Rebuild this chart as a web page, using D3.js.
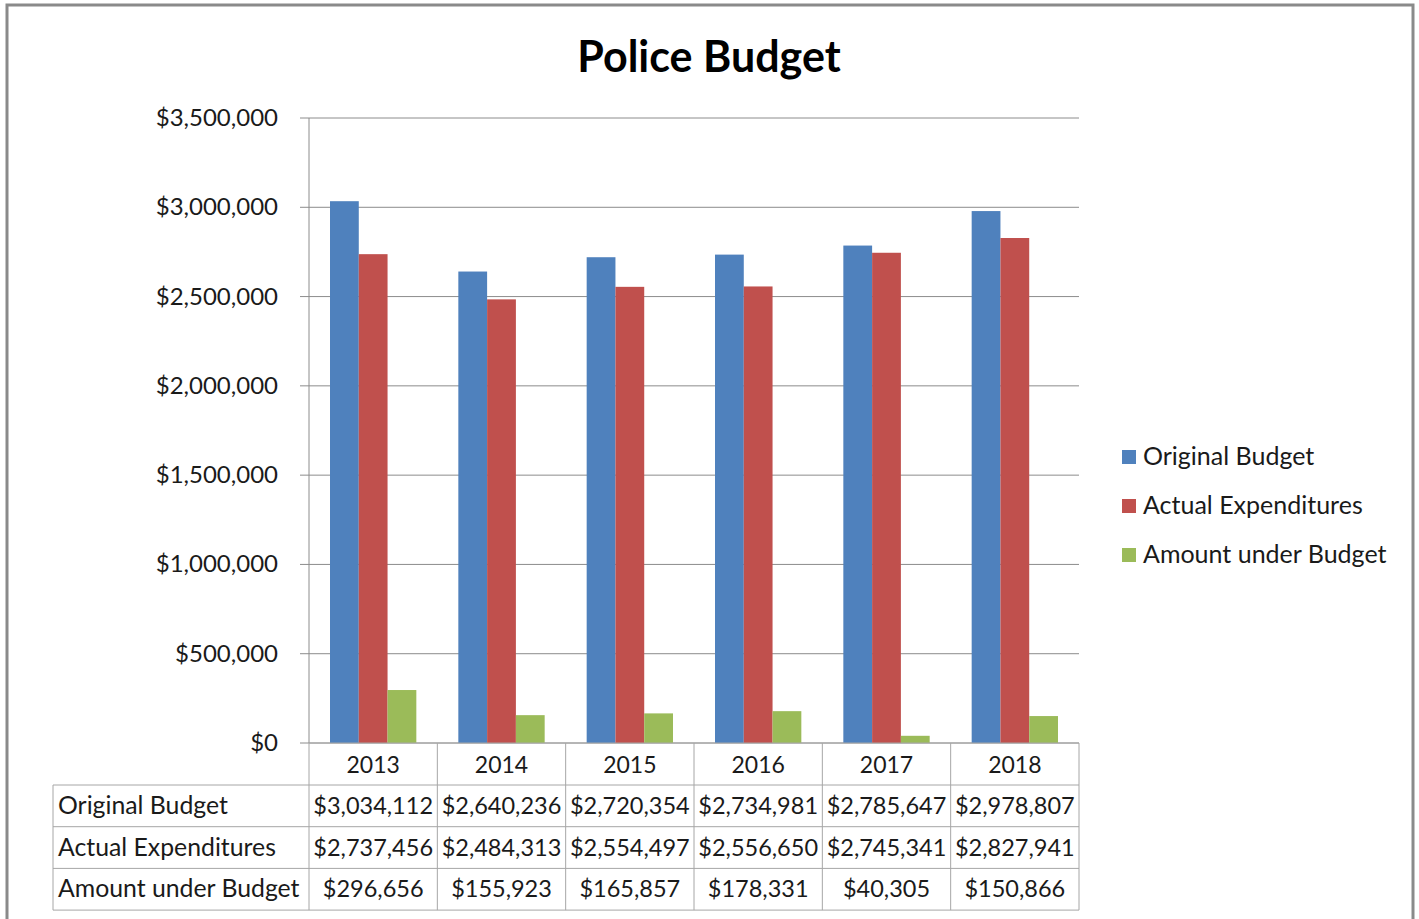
<html>
<head>
<title>Police Budget</title>
<style>
  body { margin: 0; background: #fff; }
  text { font-family: Lato, "Open Sans", sans-serif; fill: #000; }
</style>
</head>
<body>
<script src="https://d3js.org/d3.v7.min.js"></script>
<script>
var years = ["2013", "2014", "2015", "2016", "2017", "2018"];
var seriesNames = ["Original Budget", "Actual Expenditures", "Amount under Budget"];
var originalBudget = [3034112, 2640236, 2720354, 2734981, 2785647, 2978807];
var actualExpenditures = [2737456, 2484313, 2554497, 2556650, 2745341, 2827941];
var amountUnder = [296656, 155923, 165857, 178331, 40305, 150866];
var yTicks = [0, 500000, 1000000, 1500000, 2000000, 2500000, 3000000, 3500000];
var colors = ["#4F81BD", "#C0504D", "#9BBB59"];

var allSeries = [originalBudget, actualExpenditures, amountUnder];

var svg = d3.select("body").append("svg")
    .attr("width", 1419).attr("height", 919);

// outer chart border
svg.append("rect")
    .attr("x", 7).attr("y", 5)
    .attr("width", 1406).attr("height", 960)
    .attr("fill", "none").attr("stroke", "#8a8a8a").attr("stroke-width", 3);

var plotLeft = 309, plotRight = 1079, plotTop = 118, plotBottom = 743;

var x = d3.scaleBand().domain(years).range([plotLeft, plotRight]);
var inner = d3.scaleBand().domain(seriesNames).range([21, x.bandwidth() - 21]);
var y = d3.scaleLinear().domain([0, 3500000]).range([plotBottom, plotTop]);
var fmt = function(v){ return "$" + d3.format(",")(v); };

// title
svg.append("text")
    .attr("x", 709).attr("y", 72)
    .attr("text-anchor", "middle")
    .style("font-size", "43px").style("font-weight", "bold")
    .text("Police Budget");

// gridlines + ticks
svg.selectAll(".grid").data(yTicks).enter().append("line")
    .attr("x1", plotLeft - 9).attr("x2", plotRight)
    .attr("y1", function(d){ return y(d); })
    .attr("y2", function(d){ return y(d); })
    .attr("stroke", "#8c8c8c").attr("stroke-width", 1);

svg.selectAll(".ylab").data(yTicks).enter().append("text")
    .attr("x", 278)
    .attr("y", function(d){ return y(d) + 8; })
    .attr("text-anchor", "end")
    .style("font-size", "24px")
    .style("fill", "#1a1a1a")
    .text(fmt);

// y axis line
svg.append("line")
    .attr("x1", plotLeft).attr("x2", plotLeft)
    .attr("y1", plotTop).attr("y2", plotBottom)
    .attr("stroke", "#8c8c8c");

// bars
allSeries.forEach(function(vals, s){
    svg.selectAll(".bar" + s).data(vals).enter().append("rect")
        .attr("x", function(d, i){ return x(years[i]) + inner(seriesNames[s]); })
        .attr("y", function(d){ return y(d); })
        .attr("width", inner.bandwidth())
        .attr("height", function(d){ return plotBottom - y(d); })
        .attr("fill", colors[s]);
});

// data table
var rowH = 41.7;
var tableLeft = 53;
var tableBottom = plotBottom + 42 + rowH * 3;
var lineColor = "#a6a6a6";

svg.append("line")
    .attr("x1", plotLeft).attr("x2", plotRight).attr("y1", plotBottom).attr("y2", plotBottom)
    .attr("stroke", lineColor);
d3.range(4).forEach(function(r){
    var yy = plotBottom + 42 + r * rowH;
    svg.append("line")
        .attr("x1", tableLeft).attr("x2", plotRight)
        .attr("y1", yy).attr("y2", yy)
        .attr("stroke", lineColor);
});
var colEdges = years.map(function(d){ return x(d); }).concat([plotRight]);
colEdges.forEach(function(cx){
    svg.append("line")
        .attr("x1", cx).attr("x2", cx)
        .attr("y1", plotBottom).attr("y2", tableBottom)
        .attr("stroke", lineColor);
});
svg.append("line")
    .attr("x1", tableLeft).attr("x2", tableLeft)
    .attr("y1", plotBottom + 42).attr("y2", tableBottom)
    .attr("stroke", lineColor);

svg.selectAll(".year").data(years).enter().append("text")
    .attr("x", function(d){ return x(d) + x.bandwidth() / 2; })
    .attr("y", plotBottom + 30)
    .attr("text-anchor", "middle")
    .style("font-size", "23px")
    .style("fill", "#1a1a1a")
    .text(function(d){ return d; });

allSeries.forEach(function(vals, s){
    var cy = plotBottom + 42 + s * rowH + 29;
    svg.append("text")
        .attr("x", tableLeft + 5).attr("y", cy)
        .style("font-size", "24.8px")
        .style("fill", "#1a1a1a")
        .text(seriesNames[s]);
    svg.selectAll(".cell" + s).data(vals).enter().append("text")
        .attr("x", function(d, i){ return x(years[i]) + x.bandwidth() / 2; })
        .attr("y", cy)
        .attr("text-anchor", "middle")
        .style("font-size", "23.5px")
        .style("fill", "#1a1a1a")
        .text(fmt);
});

// legend
var legend = svg.selectAll(".legend").data(seriesNames).enter().append("g")
    .attr("transform", function(d, i){ return "translate(1122," + (450 + i * 49) + ")"; });
legend.append("rect")
    .attr("width", 14).attr("height", 14)
    .attr("fill", function(d, i){ return colors[i]; });
legend.append("text")
    .attr("x", 21).attr("y", 15)
    .style("font-size", "25px")
    .style("fill", "#1a1a1a")
    .text(function(d){ return d; });
</script>
</body>
</html>
